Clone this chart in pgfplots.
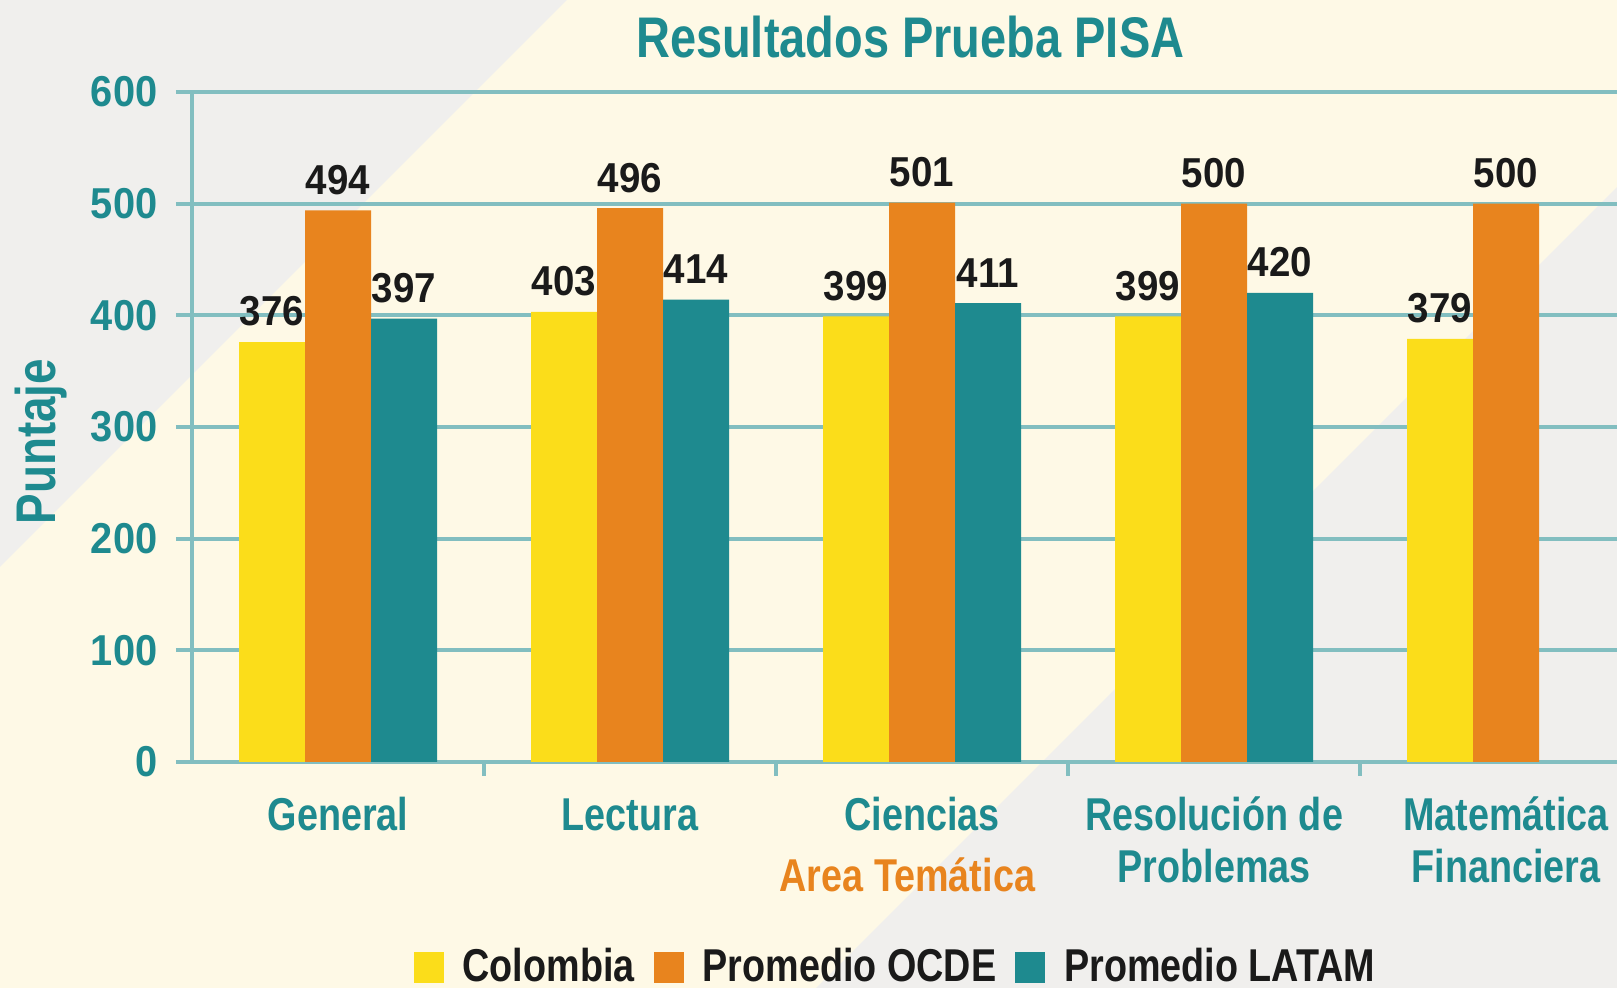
\documentclass[border=0pt]{standalone}
\usepackage{pgfplots}
\pgfplotsset{compat=1.18}
\usepackage{fontspec}
\setmainfont{Liberation Sans}[FakeStretch=0.82]
\newfontfamily\numfont{Liberation Sans}[FakeStretch=0.92]
\definecolor{bgcream}{RGB}{254,249,230}
\definecolor{bggray}{RGB}{240,239,237}
\definecolor{cteal}{RGB}{30,138,143}
\definecolor{cyellow}{RGB}{251,221,26}
\definecolor{corange}{RGB}{232,132,30}
\definecolor{cgrid}{RGB}{130,190,192}
\definecolor{clabel}{RGB}{26,26,26}
\begin{document}
\begin{tikzpicture}
\path[use as bounding box] (-19.2mm,-22.6mm) rectangle (142.5mm,76.2mm);
\fill[bgcream] (-19.2mm,-22.6mm) rectangle (142.5mm,76.2mm);
\fill[bggray] (-19.2mm,76.2mm) -- (37.5mm,76.2mm) -- (-19.2mm,19.5mm) -- cycle;
\fill[bggray] (142.5mm,57.5mm) -- (142.5mm,-22.6mm) -- (62.4mm,-22.6mm) -- cycle;
\clip (-19.2mm,-22.6mm) rectangle (142.5mm,76.2mm);
\begin{axis}[
  at={(0,0)}, anchor=south west,
  scale only axis, width=142.5mm, height=67mm,
  xmin=-0.5, xmax=4.38, ymin=0, ymax=600,
  enlargelimits=false,
  ybar=0pt, bar width=6.6mm,
  axis x line=bottom, axis y line=left,
  axis line style={-, cgrid, line width=0.35mm},
  tick align=outside,
  major tick length=1.6mm,
  minor tick length=1.4mm,
  ytick={0,100,...,600},
  ymajorgrids,
  grid style={cgrid, line width=0.4mm},
  ytick style={cgrid, line width=0.4mm},
  xtick={0,1,2,3,4},
  major x tick style={draw=none},
  minor xtick={0.5,1.5,2.5,3.5},
  minor x tick style={cgrid, line width=0.35mm},
  xticklabels={{\rule{0pt}{1em}General},{\rule{0pt}{1em}Lectura},{\rule{0pt}{1em}Ciencias},{\rule{0pt}{1em}Resolución de\\Problemas},{\rule{0pt}{1em}Matemática\\Financiera}},
  xticklabel style={font=\fontsize{13.1}{14.8}\selectfont\bfseries, text=cteal, align=center, anchor=north, inner sep=0pt, yshift=-0.6mm},
  yticklabel style={font=\numfont\fontsize{12.3}{14}\selectfont\bfseries, text=cteal, anchor=east, inner sep=0pt, xshift=-1.8mm},
  /pgf/number format/assume math mode=true,
  title={Resultados Prueba PISA},
  every axis title/.style={at={(axis description cs:0.504,1)}, anchor=base, yshift=3.4mm, font=\fontsize{16.3}{18}\selectfont\bfseries, text=cteal},
  ylabel={Puntaje},
  every axis y label/.style={at={(axis description cs:-0.106,0.478)}, rotate=90, anchor=center, font=\fontsize{15.9}{18}\selectfont\bfseries, text=cteal},
  xlabel={Area Temática},
  every axis x label/.style={at={(axis description cs:0.502,0)}, anchor=base, yshift=-13mm, font=\fontsize{13.1}{15}\selectfont\bfseries, text=corange},
  nodes near coords,
  nodes near coords style={font=\numfont\fontsize{11.9}{14}\selectfont\bfseries, text=clabel, anchor=south, inner sep=0pt, yshift=1.5mm},
  legend style={at={(axis description cs:0.493,-0.306)}, anchor=center, draw=none, fill=none,
    legend columns=-1, font=\fontsize{13.1}{15}\selectfont\bfseries, text=clabel,
    nodes={inner sep=0pt},
    /tikz/every even column/.append style={column sep=1.9mm},
    /tikz/every odd column/.append style={column sep=1.9mm}},
]
\addplot[fill=cyellow, draw=none, legend image code/.code={\fill[cyellow] (0mm,-1.55mm) rectangle (3mm,1.55mm);}]
  coordinates {(0,376) (1,403) (2,399) (3,399) (4,379)};
\addplot[fill=corange, draw=none, legend image code/.code={\fill[corange] (0mm,-1.55mm) rectangle (3mm,1.55mm);}]
  coordinates {(0,494) (1,496) (2,501) (3,500) (4,500)};
\addplot[fill=cteal, draw=none, legend image code/.code={\fill[cteal] (0mm,-1.55mm) rectangle (3mm,1.55mm);}]
  coordinates {(0,397) (1,414) (2,411) (3,420)};
\legend{Colombia, Promedio OCDE, Promedio LATAM}
\end{axis}
\end{tikzpicture}
\end{document}
